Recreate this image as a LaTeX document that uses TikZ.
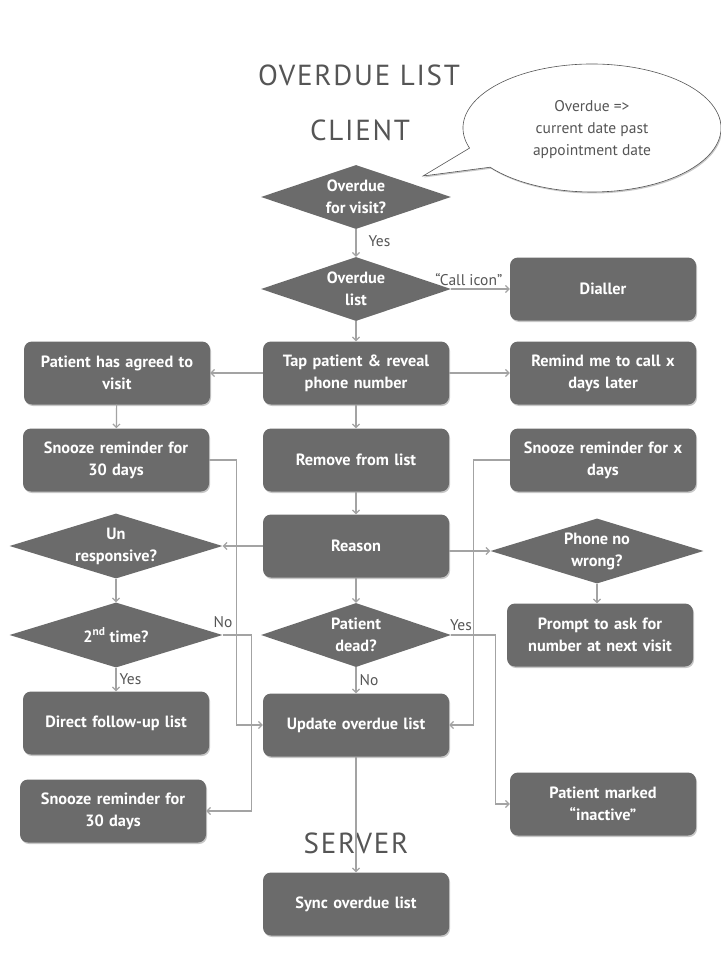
\documentclass[tikz,border=0pt]{standalone}
\usepackage{fontspec}
\setmainfont{PT Sans}
\newfontfamily\boxfont{PT Sans}
\usetikzlibrary{shapes.geometric,arrows.meta,shadows}
\definecolor{boxgray}{HTML}{6B6B6B}
\definecolor{linegray}{HTML}{A3A3A3}
\definecolor{inkgray}{HTML}{555555}
\begin{document}
\begin{tikzpicture}[x=1pt,y=-1pt,
  softshadow/.style={drop shadow={shadow xshift=1pt,shadow yshift=-1.5pt,opacity=0.22,fill=black}},
  procbox/.style={fill=boxgray, rounded corners=8pt, minimum width=186pt, minimum height=63pt,
    text width=182pt, align=center, text=white, inner sep=0pt,
    font=\boxfont\bfseries\fontsize{16.3}{22}\selectfont, softshadow},
  decision/.style={diamond, aspect=3, fill=boxgray, minimum width=190pt, minimum height=64pt,
    inner sep=0pt, align=center, text=white, font=\boxfont\bfseries\fontsize{16.3}{22}\selectfont},
  widedec/.style={decision, minimum width=213pt, minimum height=65pt},
  flow/.style={draw=linegray, line width=1.2pt, -{Straight Barb[length=3.5pt,width=7pt]}},
  flowlabel/.style={text=inkgray, font=\fontsize{15.5}{18}\selectfont, inner sep=1pt},
  heading/.style={text=inkgray, font=\fontsize{29}{32}\selectfont\addfontfeatures{LetterSpace=6}}
]
\useasboundingbox (0,0) rectangle (720,960);

% headings
\node[heading] (title)  at (359,75)  {OVERDUE LIST};
\node[heading] (client) at (360,130) {CLIENT};

% callout bubble
\coordinate (bubc) at (592,128);
\coordinate (tip) at (423,176);
\draw[draw=inkgray, line width=0.6pt, fill=white, softshadow]
  ([shift={(161.7:129 and 64)}]bubc) arc[start angle=161.7, end angle=502.2, x radius=129, y radius=64]
  -- (tip) -- cycle;
\node[text=inkgray, align=center, font=\fontsize{15.5}{22}\selectfont] (note) at (592,130)
  {Overdue =>\\current date past\\appointment date};

% central column
\node[decision] (due)    at (356,197) {Overdue\\for visit?};
\node[decision] (list)   at (356,289) {Overdue\\list};
\node[procbox]  (tap)    at (356,373) {Tap patient \& reveal\\phone number};
\node[procbox]  (remove) at (356,460) {Remove from list};
\node[procbox]  (reason) at (356,546) {Reason};
\node[decision] (dead)   at (356,635) {Patient\\dead?};
\node[procbox]  (update) at (356,725) {Update overdue list};
\node[heading]  (server) at (356,843) {SERVER};
\node[procbox]  (sync)   at (356,904) {Sync overdue list};

% left column
\node[procbox]  (agreed) at (117,373) {Patient has agreed to\\visit};
\node[procbox]  (snza)   at (116,460) {Snooze reminder for\\30 days};
\node[widedec]  (unresp) at (116,546) {Un\\responsive?};
\node[widedec]  (second) at (116,635) {2\textsuperscript{nd} time?};
\node[procbox]  (direct) at (116,723) {Direct follow-up list};
\node[procbox]  (snzb)   at (113,811) {Snooze reminder for\\30 days};

% right column
\node[procbox]  (dialler) at (603,289) {Dialler};
\node[procbox]  (remind)  at (603,373) {Remind me to call x\\days later};
\node[procbox]  (snzx)    at (603,460) {Snooze reminder for x\\days};
\node[widedec]  (phone)   at (597,551) {Phone no\\wrong?};
\node[procbox]  (prompt)  at (600,635) {Prompt to ask for\\number at next visit};
\node[procbox]  (inact)   at (603,804) {Patient marked\\“inactive”};

% connectors
\draw[flow] (due) -- node[flowlabel, anchor=west, pos=0.45, xshift=11pt] {Yes} (list);
\draw[flow] (list.east) -- node[flowlabel, anchor=south, pos=0.3, yshift=2pt] {“Call icon”} (dialler.west);
\draw[flow] (list) -- (tap);
\draw[flow] (tap) -- (agreed);
\draw[flow] (tap) -- (remind);
\draw[flow] (tap) -- (remove);
\draw[flow] (agreed) -- (snza);
\draw[flow] (remove) -- (reason);
\draw[flow] (reason) -- (unresp.east);
\draw[flow] (reason.east |- phone.west) -- (phone.west);
\draw[flow] (reason) -- (dead);
\draw[flow] (phone.south) -- (prompt.north -| phone.south);
\draw[flow] (unresp) -- (second);
\draw[flow] (second) -- node[flowlabel, anchor=west, pos=0.5, xshift=2pt] {Yes} (direct);
\draw[flow] (dead) -- node[flowlabel, anchor=west, pos=0.5, xshift=2pt] {No} (update);
\draw[flow] (snza.east) -- ++(27,0) |- (update.west);
\draw[flow] (second.east) -- ++(29,0) |- (snzb.east);
\draw[flow] (snzx.west) -- ++(-36,0) |- (update.east);
\draw[flow] (dead.east) -- ++(44,0) |- (inact.west);
\draw[flow] (update) -- (sync);
\node[flowlabel] (nolabel)  at (223,622) {No};
\node[flowlabel] (yeslabel) at (461,625) {Yes};
\end{tikzpicture}
\end{document}
